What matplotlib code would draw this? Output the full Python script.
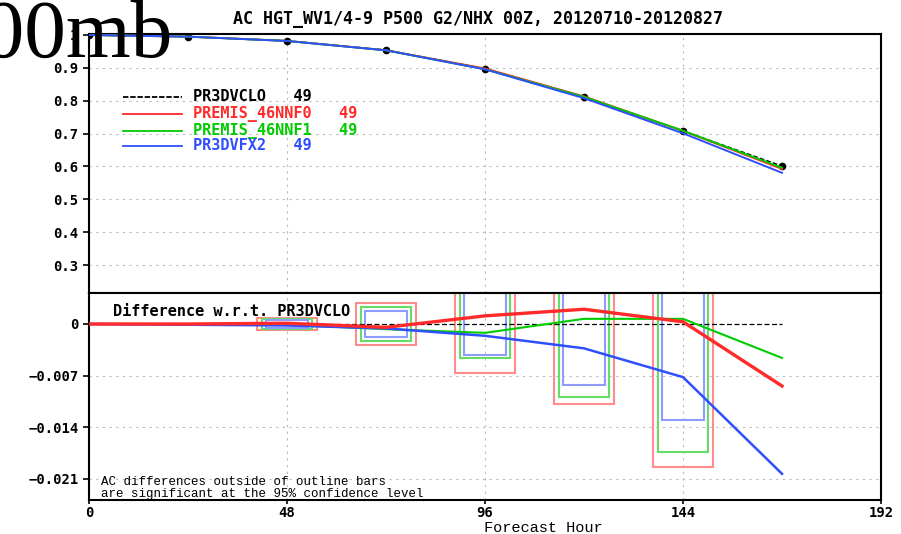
import numpy as np
import matplotlib.pyplot as plt
from matplotlib.patches import Rectangle

# forecast hours and anomaly correlation of the control run
HOURS = [0, 24, 48, 72, 96, 120, 144, 168]
AC_CTRL = [1.0, 0.995, 0.982, 0.954, 0.897, 0.811, 0.708, 0.601]

# differences w.r.t. PR3DVCLO
DIFF_NNF0 = [0.0, 0.0, 0.0001, -0.00045, 0.0011, 0.0020, 0.0003, -0.0084]
DIFF_NNF1 = [0.0, 0.0, -0.0001, -0.0007, -0.0012, 0.0007, 0.0007, -0.0046]
DIFF_FX2 = [0.0, -0.0001, -0.0002, -0.0006, -0.0016, -0.0033, -0.0072, -0.0203]

# 95% confidence half-widths (outline bars)
CI_HOURS = [48, 72, 96, 120, 144]
CI_NNF0 = [0.00085, 0.0028, 0.0066, 0.0108, 0.0194]
CI_NNF1 = [0.00062, 0.0023, 0.0046, 0.0099, 0.0173]
CI_FX2 = [0.0005, 0.0017, 0.0042, 0.0083, 0.0130]

NAMES = ["PR3DVCLO", "PREMIS_46NNF0", "PREMIS_46NNF1", "PR3DVFX2"]
COUNTS = [49, 49, 49, 49]
COLORS = ["black", "#ff2a2a", "#00cc00", "#2f4fff"]
BOX_COLORS = ["#ff8c8c", "#66dd66", "#8c9cff"]

MONO = "DejaVu Sans Mono"
SERIFMONO = "Liberation Mono"

fig = plt.figure(figsize=(9.01, 5.34), dpi=100)
W, H = 901, 534
left, right = 89 / W, 881 / W
ax1 = fig.add_axes([left, 1 - 293 / H, right - left, (293 - 34) / H])
ax2 = fig.add_axes([left, 1 - 500 / H, right - left, (500 - 293) / H])

grid_kw = dict(color="#bbbbbb", lw=0.8, linestyle=(0, (2, 4)), zorder=0)
for ax in (ax1, ax2):
    ax.set_xlim(0, 192)
    for s in ax.spines.values():
        s.set_linewidth(1.5)
    ax.tick_params(direction="out", length=4, width=1.2, labelsize=10)

# ---- top panel: anomaly correlation
ac = np.array(AC_CTRL)
ax1.set_ylim(0.215, 1.003)
yt = [0.3, 0.4, 0.5, 0.6, 0.7, 0.8, 0.9, 1.0]
ax1.set_yticks(yt)
ax1.set_yticklabels(["0.3", "0.4", "0.5", "0.6", "0.7", "0.8", "0.9", "1"],
                    fontfamily=MONO, fontweight="bold", fontsize=10)
ax1.set_xticks([48, 96, 144])
ax1.tick_params(axis="x", length=0, labelbottom=False)
for y in yt[:-1]:
    ax1.axhline(y, **grid_kw)
for x in [48, 96, 144]:
    ax1.axvline(x, **grid_kw)

for diff, c in zip([DIFF_NNF0, DIFF_NNF1, DIFF_FX2], COLORS[1:]):
    ax1.plot(HOURS, ac + np.array(diff), color=c, lw=1.4, zorder=3)
ax1.plot(HOURS, ac, color="black", lw=1.1, ls=(0, (3, 1.5)), marker="o",
         ms=4.5, zorder=2)

# legend drawn by hand, GrADS style
leg_y = [97, 114, 131, 146]
for name, n, c, y in zip(NAMES, COUNTS, COLORS, leg_y):
    yy = 1 - (y - 34) / (293 - 34)
    ls = (0, (3, 1)) if c == "black" else "-"
    ax1.plot([(123 - 89) / 792, (182 - 89) / 792], [yy, yy], color=c, lw=1.3,
             ls=ls, transform=ax1.transAxes)
    ax1.text((193 - 89) / 792, yy, f"{name}   {n}", color=c, fontsize=11,
             fontfamily=MONO, fontweight="bold", va="center", ha="left",
             transform=ax1.transAxes)

# ---- bottom panel: differences with confidence outline bars
ax2.set_ylim(-0.02385, 0.0042)
ax2.set_yticks([-0.021, -0.014, -0.007, 0])
ax2.set_yticklabels(["\u22120.021", "\u22120.014", "\u22120.007", "0"],
                    fontfamily=MONO, fontweight="bold", fontsize=10)
ax2.set_xticks([0, 48, 96, 144, 192])
ax2.set_xticklabels(["0", "48", "96", "144", "192"], fontfamily=MONO,
                    fontweight="bold", fontsize=10)
ax2.tick_params(axis="x", length=3, pad=1)
for y in [-0.021, -0.014, -0.007]:
    ax2.axhline(y, **grid_kw)
for x in [48, 96, 144]:
    ax2.axvline(x, **grid_kw)

half_w = [7.3, 6.1, 5.0]
for ci, bc, hw in zip([CI_NNF0, CI_NNF1, CI_FX2], BOX_COLORS, half_w):
    for h, v in zip(CI_HOURS, ci):
        ax2.add_patch(Rectangle((h - hw, -v), 2 * hw, 2 * v, fill=False,
                                edgecolor=bc, lw=1.5, zorder=2))

ax2.plot(HOURS, np.zeros(len(HOURS)), color="black", lw=0.9,
         ls=(0, (4, 2)), zorder=3)
ax2.plot(HOURS, DIFF_NNF1, color=COLORS[2], lw=1.5, zorder=4)
ax2.plot(HOURS, DIFF_FX2, color=COLORS[3], lw=1.8, zorder=4)
ax2.plot(HOURS, DIFF_NNF0, color=COLORS[1], lw=2.4, zorder=5)

ax2.text((113 - 89) / 792, 1 - (311 - 293) / 207, "Difference w.r.t. PR3DVCLO",
         fontsize=11, fontfamily=MONO, fontweight="bold", va="center",
         transform=ax2.transAxes, zorder=6)
ax2.text((101 - 89) / 792, 1 - (488 - 293) / 207,
         "AC differences outside of outline bars\n"
         "are significant at the 95% confidence level",
         fontsize=9, fontfamily=SERIFMONO, va="center", linespacing=0.95,
         transform=ax2.transAxes, zorder=6)

fig.text(543 / W, 1 - 528 / H, "Forecast Hour", fontsize=11,
         fontfamily=SERIFMONO, ha="center", va="center")

fig.text(478 / W, 1 - 19 / H,
         "AC HGT_WV1/4-9 P500 G2/NHX 00Z, 20120710-20120827",
         fontsize=12, fontfamily=MONO, fontweight="bold",
         ha="center", va="center", zorder=1)
fig.text(172 / W, 1 - 57 / H, "500mb", fontsize=60,
         fontfamily="Liberation Serif", ha="right", va="baseline", zorder=10)

fig.savefig("out.png", dpi=100)
